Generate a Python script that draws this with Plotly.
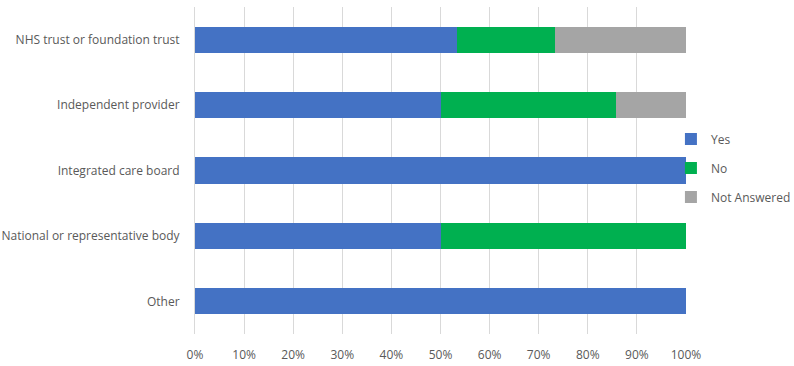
import plotly.graph_objects as go

categories = ["NHS trust or foundation trust", "Independent provider", "Integrated care board",
              "National or representative body", "Other"]
yes = [53.3, 50.0, 100.0, 50.0, 100.0]
no = [20.0, 35.7, 0.0, 50.0, 0.0]
not_answered = [26.7, 14.3, 0.0, 0.0, 0.0]
series_names = ["Yes", "No", "Not Answered"]
colors = ["#4472C4", "#00B050", "#A5A5A5"]
tick_vals = [0, 10, 20, 30, 40, 50, 60, 70, 80, 90, 100]
tick_text = [f"{v}%" for v in tick_vals]

fig = go.Figure()
for name, vals, col in zip(series_names, [yes, no, not_answered], colors):
    fig.add_trace(go.Bar(y=categories, x=vals, name=name, orientation="h",
                         marker=dict(color=col, line=dict(width=0)),
                         width=0.4, legendgroup=name))

fig.update_layout(
    barmode="stack",
    width=794, height=366,
    margin=dict(l=195, r=108, t=7, b=32, autoexpand=False),
    paper_bgcolor="white", plot_bgcolor="white",
    font=dict(family="Open Sans", size=12, color="#595959"),
    legend=dict(xref="container", yref="container", x=0.845, y=0.66,
                xanchor="left", yanchor="top", bgcolor="rgba(0,0,0,0)",
                traceorder="grouped", tracegroupgap=10,
                font=dict(size=12, color="#595959"), itemwidth=30),
    bargap=0.6,
)
fig.update_xaxes(range=[0, 100], tickvals=tick_vals, ticktext=tick_text,
                 showgrid=True, gridcolor="#D9D9D9", gridwidth=1, automargin=False,
                 zeroline=False, showline=False, ticks="", ticklabelstandoff=12)
fig.update_yaxes(autorange="reversed", showgrid=False, showline=True, automargin=False,
                 linecolor="#D9D9D9", ticks="", ticklabelstandoff=12)

fig.write_html("out.html", config={"displayModeBar": False},
               post_script="document.body.style.margin='0';")
